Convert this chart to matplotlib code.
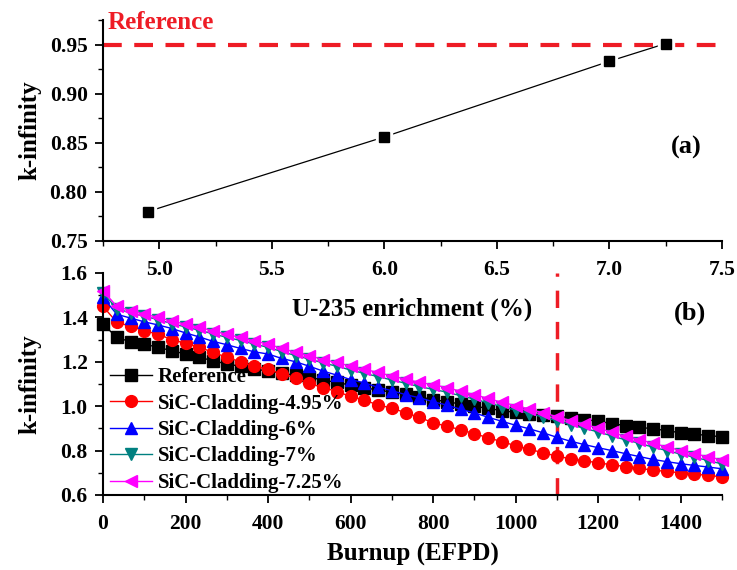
import matplotlib
matplotlib.use("Agg")
import matplotlib.pyplot as plt
from matplotlib.ticker import MultipleLocator

plt.rcParams['font.family'] = ['Liberation Serif', 'DejaVu Serif']
plt.rcParams['font.weight'] = 'bold'

# ---- Panel (a) data ----
enrichment = [4.95, 6.0, 7.0, 7.25]
kinf_enrich = [0.780, 0.856, 0.933, 0.951]
reference_k = 0.95

# ---- Panel (b) data ----
burnup = [0, 33.3, 66.7, 100, 133.3, 166.7, 200, 233.3, 266.7, 300,
          333.3, 366.7, 400, 433.3, 466.7, 500, 533.3, 566.7, 600, 633.3,
          666.7, 700, 733.3, 766.7, 800, 833.3, 866.7, 900, 933.3, 966.7,
          1000, 1033.3, 1066.7, 1100, 1133.3, 1166.7, 1200, 1233.3, 1266.7, 1300,
          1333.3, 1366.7, 1400, 1433.3, 1466.7, 1500]

k_reference = [1.37, 1.31, 1.29, 1.28, 1.265, 1.25, 1.235, 1.22, 1.205, 1.19,
               1.18, 1.168, 1.158, 1.148, 1.14, 1.13, 1.118, 1.107, 1.095, 1.083,
               1.073, 1.063, 1.053, 1.042, 1.03, 1.02, 1.01, 1.0, 0.99, 0.98,
               0.972, 0.965, 0.96, 0.955, 0.948, 0.94, 0.932, 0.922, 0.912, 0.905,
               0.898, 0.89, 0.88, 0.874, 0.868, 0.862]

k_sic_495 = [1.45, 1.378, 1.36, 1.34, 1.324, 1.30, 1.283, 1.265, 1.243, 1.22,
             1.20, 1.18, 1.166, 1.145, 1.128, 1.103, 1.084, 1.066, 1.044, 1.028,
             1.005, 0.992, 0.97, 0.95, 0.925, 0.91, 0.894, 0.876, 0.858, 0.84,
             0.822, 0.806, 0.79, 0.775, 0.763, 0.754, 0.745, 0.736, 0.728, 0.72,
             0.712, 0.706, 0.70, 0.694, 0.688, 0.682]

k_sic_6 = [1.49, 1.414, 1.397, 1.38, 1.366, 1.35, 1.33, 1.312, 1.292, 1.277,
           1.26, 1.245, 1.235, 1.215, 1.20, 1.18, 1.158, 1.14, 1.12, 1.105,
           1.085, 1.07, 1.052, 1.038, 1.02, 1.005, 0.986, 0.97, 0.95, 0.932,
           0.914, 0.898, 0.88, 0.86, 0.842, 0.827, 0.813, 0.80, 0.786, 0.773,
           0.76, 0.75, 0.741, 0.733, 0.726, 0.718]

k_sic_7 = [1.51, 1.44, 1.42, 1.405, 1.39, 1.372, 1.357, 1.342, 1.326, 1.31,
           1.296, 1.28, 1.265, 1.246, 1.228, 1.212, 1.195, 1.18, 1.163, 1.148,
           1.133, 1.118, 1.103, 1.088, 1.076, 1.063, 1.047, 1.032, 1.015, 0.998,
           0.983, 0.967, 0.951, 0.935, 0.917, 0.90, 0.884, 0.866, 0.848, 0.833,
           0.815, 0.80, 0.784, 0.77, 0.755, 0.74]

k_sic_725 = [1.52, 1.45, 1.43, 1.415, 1.40, 1.383, 1.37, 1.355, 1.34, 1.323,
             1.31, 1.294, 1.28, 1.26, 1.243, 1.228, 1.21, 1.197, 1.18, 1.166,
             1.152, 1.136, 1.122, 1.107, 1.097, 1.084, 1.067, 1.052, 1.035, 1.017,
             1.003, 0.986, 0.97, 0.953, 0.935, 0.918, 0.902, 0.882, 0.864, 0.85,
             0.832, 0.817, 0.80, 0.786, 0.772, 0.758]

series_labels = ['Reference', 'SiC-Cladding-4.95%', 'SiC-Cladding-6%',
                 'SiC-Cladding-7%', 'SiC-Cladding-7.25%']
burnup_limit = 1100

fig = plt.figure(figsize=(7.37, 5.70), dpi=100)
W, H = 737, 570
ax1 = fig.add_axes([103 / W, (H - 241) / H, (722 - 103) / W, (241 - 20) / H])
ax2 = fig.add_axes([103 / W, (H - 495) / H, (722 - 103) / W, (495 - 273) / H])
ax2.set_facecolor('none')

red = '#ee1c25'

# ---- Panel (a) ----
ax1.axhline(reference_k, color=red, lw=3, ls=(0, (4.5, 3)), zorder=1)
ax1.plot(enrichment, kinf_enrich, color='black', lw=0.9, zorder=2)
ax1.plot(enrichment, kinf_enrich, ls='none', marker='s', ms=11, mfc='white',
         mec='white', zorder=3)
ax1.plot(enrichment, kinf_enrich, ls='none', marker='s', ms=7.5, mfc='black',
         mec='black', zorder=4)
ax1.set_xlim(4.75, 7.5)
ax1.set_ylim(0.75, 0.975)
ax1.xaxis.set_minor_locator(MultipleLocator(0.25))
ax1.yaxis.set_minor_locator(MultipleLocator(0.025))
ax1.set_yticks([0.75, 0.80, 0.85, 0.90, 0.95])
ax1.set_yticklabels(['0.75', '0.80', '0.85', '0.90', '0.95'])
ax1.set_xticks([5.0, 5.5, 6.0, 6.5, 7.0, 7.5])
ax1.set_xticklabels(['5.0', '5.5', '6.0', '6.5', '7.0', '7.5'])
ax1.set_xlabel('U-235 enrichment (%)', fontsize=18, fontweight='bold')
ax1.xaxis.set_label_coords(0.5, -0.255)
ax1.set_ylabel('k-infinity', fontsize=18, fontweight='bold')
ax1.yaxis.set_label_coords(-0.1, 0.5)
ax1.text(0.008, 0.99, 'Reference', transform=ax1.transAxes, color=red,
         fontsize=18, fontweight='bold', ha='left', va='center')
ax1.text(7.34, 0.845, '(a)', fontsize=19, fontweight='bold', ha='center', va='center')

# ---- Panel (b) ----
styles = [
    (k_reference, 'black', 's'),
    (k_sic_495, '#ff0000', 'o'),
    (k_sic_6, '#0000ff', '^'),
    (k_sic_7, '#008080', 'v'),
    (k_sic_725, '#ff00ff', '<'),
]
for (vals, col, mk), lab in zip(styles, series_labels):
    ax2.plot(burnup, vals, color=col, lw=1.0, marker=mk, ms=8.5, mfc=col,
             mec=col, label=lab, clip_on=False)
ax2.axvline(burnup_limit, color=red, lw=2.5, ls=(0, (5, 4)), zorder=0)
ax2.set_xlim(0, 1500)
ax2.set_ylim(0.6, 1.6)
ax2.xaxis.set_major_locator(MultipleLocator(200))
ax2.xaxis.set_minor_locator(MultipleLocator(100))
ax2.yaxis.set_major_locator(MultipleLocator(0.2))
ax2.yaxis.set_minor_locator(MultipleLocator(0.1))
ax2.set_xlabel('Burnup (EFPD)', fontsize=18, fontweight='bold')
ax2.xaxis.set_label_coords(0.5, -0.215)
ax2.set_ylabel('k-infinity', fontsize=18, fontweight='bold')
ax2.yaxis.set_label_coords(-0.1, 0.5)
ax2.text(1422, 1.42, '(b)', fontsize=19, fontweight='bold', ha='center', va='center')
leg = ax2.legend(loc='lower left', bbox_to_anchor=(0.008, 0.0), frameon=False,
                 fontsize=15, handlelength=2.0, handletextpad=0.3,
                 labelspacing=0.31, borderpad=0.1, borderaxespad=0.0)

for ax in (ax1, ax2):
    ax.spines['top'].set_visible(False)
    ax.spines['right'].set_visible(False)
    ax.spines['left'].set_linewidth(1.5)
    ax.spines['bottom'].set_linewidth(1.5)
    ax.tick_params(which='major', direction='out', length=6, width=1.3,
                   labelsize=15.5)
    ax.tick_params(axis='x', which='major', pad=7.5)
    ax.tick_params(axis='y', which='major', pad=5)
    ax.tick_params(which='minor', direction='out', length=3.5, width=1.0)
    for lbl in ax.get_xticklabels() + ax.get_yticklabels():
        lbl.set_fontweight('bold')

fig.savefig('out.png', dpi=100)
